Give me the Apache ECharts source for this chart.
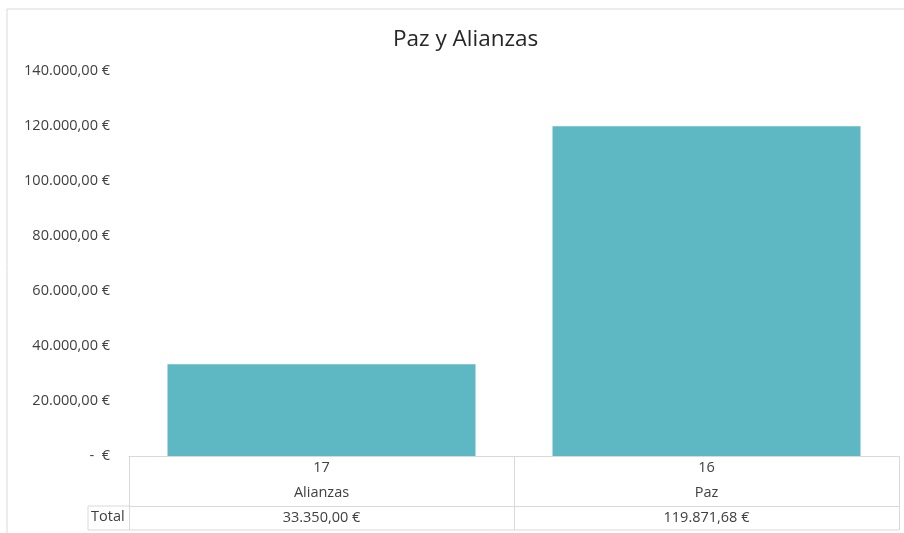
<!DOCTYPE html>
<html>
<head>
<meta charset="utf-8">
<script src="https://cdn.jsdelivr.net/npm/echarts@6/dist/echarts.min.js"></script>
<style>
  html, body { margin: 0; padding: 0; background: #fff; }
  #chart { width: 904px; height: 533px; }
</style>
</head>
<body>
<div id="chart"></div>
<script>
const title = "Paz y Alianzas";
const codes = ["17", "16"];
const categories = ["Alianzas", "Paz"];
const totals = [33350.00, 119871.68];

const yMin = 0;
const yMax = 140000;
const yStep = 20000;

// grid edges (px) used for the table borders
const gridLeft = 129;
const gridRight = 5;
const gridTop = 71;
const gridBottom = 77;

const fontFamily = "'Open Sans', Lato, sans-serif";
const fontSize = 14.5;
const textColor = "#404040";
const lineColor = "#d9d9d9";

const euro = (v) => {
  if (v === 0) return "-  €";
  const [int, dec] = v.toFixed(2).split(".");
  return int.replace(/\B(?=(\d{3})+(?!\d))/g, ".") + "," + dec + " €";
};

const chart = echarts.init(document.getElementById("chart"));

const zeroY = 533 - gridBottom;
const totalTop = zeroY + 50;
const totalBottom = totalTop + 24;

chart.setOption({
  animation: false,
  textStyle: { fontFamily },
  title: {
    text: title,
    left: 388,
    top: 23,
    textStyle: { fontSize: 22.5, fontWeight: "normal", color: "#262626", fontFamily }
  },
  grid: { left: gridLeft, right: gridRight, top: gridTop, bottom: gridBottom },
  xAxis: [
    {
      type: "category",
      data: categories,
      position: "bottom",
      axisLine: { show: true, lineStyle: { color: lineColor } },
      axisTick: { show: true, alignWithLabel: false, interval: 0, length: 50, lineStyle: { color: lineColor } },
      axisLabel: {
        margin: -1,
        interval: 0,
        formatter: (v, i) => `{c|${codes[i]}}\n{c|${v}}`,
        rich: { c: { fontSize, lineHeight: 25, color: textColor, fontFamily } }
      }
    },
    {
      type: "category",
      data: totals.map(euro),
      position: "bottom",
      offset: 50,
      axisLine: { show: true, lineStyle: { color: lineColor } },
      axisTick: { show: true, alignWithLabel: false, interval: 0, length: 24, lineStyle: { color: lineColor } },
      axisLabel: {
        margin: 0,
        interval: 0,
        fontSize,
        lineHeight: 24,
        color: textColor,
        fontFamily
      }
    }
  ],
  yAxis: {
    type: "value",
    min: yMin,
    max: yMax,
    interval: yStep,
    axisLine: { show: false },
    axisTick: { show: false },
    splitLine: { show: false },
    axisLabel: { formatter: euro, fontSize, color: textColor, margin: 19, fontFamily }
  },
  series: [
    {
      type: "bar",
      data: totals,
      barCategoryGap: "20%",
      itemStyle: { color: "#5db8c4" }
    }
  ],
  graphic: [
    {
      type: "rect",
      shape: { x: 7, y: 9, width: 1000, height: 1000 },
      style: { fill: "none", stroke: lineColor, lineWidth: 1 },
      silent: true
    },
    {
      type: "line",
      shape: { x1: 88, y1: totalTop, x2: gridLeft, y2: totalTop },
      style: { stroke: lineColor, lineWidth: 1 }
    },
    {
      type: "line",
      shape: { x1: 88, y1: totalTop, x2: 88, y2: totalBottom },
      style: { stroke: lineColor, lineWidth: 1 }
    },
    {
      type: "line",
      shape: { x1: 88, y1: totalBottom, x2: 904 - gridRight, y2: totalBottom },
      style: { stroke: lineColor, lineWidth: 1 }
    },
    {
      type: "text",
      left: 91,
      top: totalTop + 3,
      style: { text: "Total", fontSize, fill: textColor, fontFamily }
    }
  ]
});
</script>
</body>
</html>
